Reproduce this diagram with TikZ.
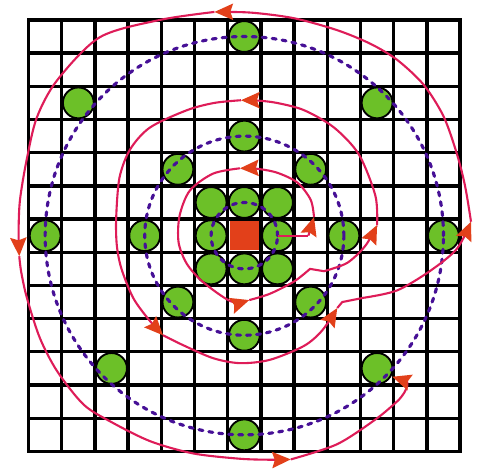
\documentclass[tikz,border=0pt]{standalone}
\usetikzlibrary{arrows.meta}
\definecolor{leaf}{RGB}{108,192,40}
\definecolor{coral}{RGB}{226,64,26}
\definecolor{crimson}{RGB}{222,28,88}
\definecolor{indigo}{RGB}{70,16,150}
\begin{document}
\begin{tikzpicture}[
  gridline/.style={line width=2.8pt, black},
  dot/.style={circle, draw=black, line width=1.6pt, fill=leaf, minimum size=0.93cm, inner sep=0pt},
  corebox/.style={fill=coral, minimum size=0.88cm, inner sep=0pt},
  ring/.style={indigo, line width=2.7pt, line cap=round, dash pattern=on 3.4pt off 5.2pt},
  spiralline/.style={crimson, line width=1.8pt},
  spiral/.style={spiralline, -{Stealth[length=5.6mm,width=4.9mm,inset=0.8mm,color=coral]}},
]
\useasboundingbox (-7.36,-7.10) rectangle (7.01,7.10);
% grid
\foreach \v in {-6.5,-5.5,...,6.6} {
  \draw[gridline] (\v,-6.5) -- (\v,6.5);
  \draw[gridline] (-6.5,\v) -- (6.5,\v);
}
\draw[gridline, line join=miter] (-6.5,-6.5) rectangle (6.5,6.5);
% centre
\node[corebox] (core) at (0,0) {};
% inner ring
\node[dot] (i1) at (1,0) {};
\node[dot] (i2) at (1,1) {};
\node[dot] (i3) at (0,1) {};
\node[dot] (i4) at (-1,1) {};
\node[dot] (i5) at (-1,0) {};
\node[dot] (i6) at (-1,-1) {};
\node[dot] (i7) at (0,-1) {};
\node[dot] (i8) at (1,-1) {};
% middle ring
\node[dot] (m1) at (3,0) {};
\node[dot] (m2) at (2,2) {};
\node[dot] (m3) at (0,3) {};
\node[dot] (m4) at (-2,2) {};
\node[dot] (m5) at (-3,0) {};
\node[dot] (m6) at (-2,-2) {};
\node[dot] (m7) at (0,-3) {};
\node[dot] (m8) at (2,-2) {};
% outer ring
\node[dot] (o1) at (6,0) {};
\node[dot] (o2) at (4,4) {};
\node[dot] (o3) at (0,6) {};
\node[dot] (o4) at (-5,4) {};
\node[dot] (o5) at (-6,0) {};
\node[dot] (o6) at (-4,-4) {};
\node[dot] (o7) at (0,-6) {};
\node[dot] (o8) at (4,-4) {};
% dashed rings
\draw[ring] (core.center) circle (1);
\draw[ring] (core.center) circle (3);
\draw[ring] (core.center) circle (6);
% arrow tip positions
\coordinate (c0) at (1.93,0);
\coordinate (t1) at (2.1,0.56);
\coordinate (t2) at (-0.13,2.03);
\coordinate (t3) at (0.15,-1.94);
\coordinate (t4) at (4.0,0.32);
\coordinate (t5) at (-0.1,4.08);
\coordinate (t6) at (-2.45,-3.0);
\coordinate (t7) at (2.8,-2.18);
\coordinate (t8) at (6.83,0.42);
\coordinate (t9) at (-0.9,6.74);
\coordinate (t10) at (-6.78,-0.62);
\coordinate (t11) at (1.4,-6.74);
\coordinate (t12) at (4.46,-4.25);
% spiral
\draw[spiralline] (i1.center) -- (c0);
\draw[spiral] (c0) -- (t1);
\draw[spiral] plot[smooth] coordinates {(t1) (2.0,1.08) (1.6,1.6) (0.98,1.9) (0.35,2.02) (t2)};
\draw[spiral] plot[smooth] coordinates {(t2) (-0.94,1.87) (-1.64,1.36) (-1.95,0.6) (-1.98,-0.2) (-1.73,-0.85) (-1.24,-1.4) (-0.4,-1.98) (t3)};
\draw[spiral] plot[smooth] coordinates {(t3) (0.77,-1.75) (1.5,-1.38) (1.98,-1.0)} -- plot[smooth] coordinates {(2.4,-1.07) (3.1,-0.82) (3.65,-0.3) (t4)};
\draw[spiral] plot[smooth] coordinates {(t4) (3.95,1.2) (3.45,2.45) (2.7,3.26) (1.8,3.78) (0.98,4.0) (0.4,4.07) (t5)};
\draw[spiral] plot[smooth] coordinates {(t5) (-0.9,4.0) (-1.73,3.78) (-2.84,3.26) (-3.44,2.6) (-3.76,1.75) (-3.86,0.54) (-3.84,-0.3) (-3.7,-1.0) (-3.35,-1.87) (-2.9,-2.5) (t6)};
\draw[spiral] plot[smooth] coordinates {(t6) (-1.84,-3.3) (-0.94,-3.69) (-0.13,-3.84) (0.77,-3.74) (1.8,-3.32) (2.35,-2.85) (t7)};
\draw[spiral] (t7) -- (2.95,-2.0) -- plot[smooth] coordinates {(3.6,-1.87) (4.6,-1.65) (5.6,-1.06) (6.4,-0.4) (t8)};
\draw[spiral] plot[smooth] coordinates {(t8) (6.65,1.5) (6.4,2.48) (6.0,3.6) (5.4,4.55) (4.6,5.3) (3.8,5.78) (2.8,6.19) (1.5,6.55) (0.2,6.72) (t9)};
\draw[spiral] plot[smooth] coordinates {(t9) (-2.54,6.5) (-4.35,5.98) (-5.64,4.68) (-6.25,3.56) (-6.56,2.27) (-6.76,1.06) (-6.8,0.1) (t10)};
\draw[spiral] plot[smooth] coordinates {(t10) (-6.72,-1.1) (-6.55,-1.87) (-6.16,-3.08) (-5.64,-4.08) (-4.85,-5.08) (-4.05,-5.59) (-2.84,-6.19) (-1.54,-6.56) (-0.13,-6.72) (0.8,-6.75) (t11)};
\draw[spiral] plot[smooth] coordinates {(t11) (2.8,-6.28) (4.0,-5.5) (4.65,-4.95)} .. controls (4.97,-4.6) and (4.92,-4.4) .. (t12);
\end{tikzpicture}
\end{document}
